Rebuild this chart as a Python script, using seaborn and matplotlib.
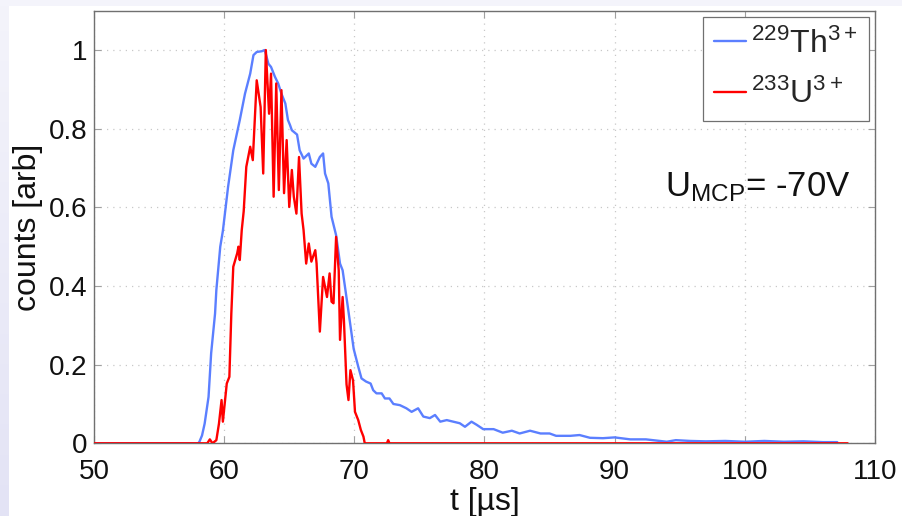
import numpy as np
import pandas as pd
import matplotlib
matplotlib.use("Agg")
import matplotlib.pyplot as plt
import seaborn as sns
from matplotlib.patches import Rectangle
from matplotlib.colors import LinearSegmentedColormap

# ---- data ----
th_t = [50.0, 58.0, 58.1, 58.3, 58.5, 58.8, 59.0, 59.3, 59.4, 59.7, 59.9, 60.3, 60.7, 61.2,
        61.6, 62.0, 62.25, 62.5, 62.9, 63.1, 63.2, 63.4, 63.6, 63.9, 64.15, 64.4, 64.7, 64.9,
        65.05, 65.2, 65.6, 65.8, 66.1, 66.5, 66.7, 67.0, 67.35, 67.6, 67.75, 68.0, 68.25,
        68.6, 68.9, 69.1, 69.5, 69.95, 70.3, 70.55, 70.9, 71.25, 71.45, 71.7, 72.1, 72.35,
        72.7, 73.0, 73.5, 74.0, 74.4, 74.9, 75.3, 75.8, 76.2, 76.6, 77.1, 77.6, 78.1, 78.5,
        79.0, 79.4, 79.9, 80.7, 81.4, 82.1, 82.7, 83.5, 84.3, 85.0, 85.5, 86.6, 87.3, 88.1,
        89.1, 90.0, 91.2, 92.4, 94.0, 94.7, 95.8, 97.0, 98.5, 100.0, 101.5, 103.0, 104.5,
        106.0, 107.1]
th_v = [0.0, 0.0, 0.004, 0.02, 0.05, 0.118, 0.229, 0.33, 0.39, 0.50, 0.54, 0.652, 0.745, 0.822,
        0.889, 0.94, 0.987, 0.995, 0.997, 1.0, 0.99, 0.965, 0.957, 0.932, 0.915, 0.889, 0.864, 0.822,
        0.81, 0.796, 0.785, 0.745, 0.724, 0.737, 0.711, 0.703, 0.728, 0.737, 0.686, 0.661, 0.576,
        0.529, 0.457, 0.44, 0.347, 0.24, 0.195, 0.165, 0.157, 0.152, 0.135, 0.127, 0.127, 0.114,
        0.114, 0.10, 0.097, 0.089, 0.080, 0.089, 0.068, 0.064, 0.072, 0.055, 0.059, 0.055, 0.051, 0.042,
        0.055, 0.047, 0.036, 0.036, 0.027, 0.032, 0.025, 0.032, 0.025, 0.025, 0.019, 0.019, 0.021, 0.014,
        0.013, 0.015, 0.010, 0.010, 0.004, 0.008, 0.006, 0.005, 0.006, 0.004, 0.006, 0.004, 0.005,
        0.003, 0.003]

u_t = [50.0, 58.7, 58.9, 59.1, 59.4, 59.6, 59.8, 59.9, 60.2, 60.4, 60.55, 60.7, 61.0, 61.1,
       61.2, 61.35, 61.5, 61.7, 62.0, 62.2, 62.5, 62.8, 63.0, 63.2, 63.45, 63.6, 63.8, 64.0,
       64.2, 64.4, 64.6, 64.8, 65.0, 65.2, 65.35, 65.55, 65.75, 65.95, 66.1, 66.3, 66.5, 66.7,
       67.0, 67.1, 67.35, 67.6, 67.9, 68.1, 68.25, 68.4, 68.6, 68.8, 68.9, 69.1, 69.2, 69.4,
       69.55, 69.7, 69.9, 70.05, 70.3, 70.5, 70.7, 70.8, 72.5, 72.6, 72.7, 107.9]
u_v = [0.0, 0.0, 0.01, 0.0, 0.008, 0.05, 0.11, 0.055, 0.152, 0.169, 0.33, 0.449, 0.483, 0.50,
       0.466, 0.542, 0.59, 0.703, 0.754, 0.72, 0.923, 0.855, 0.686, 1.0, 0.838, 0.94, 0.627, 0.915,
       0.644, 0.898, 0.636, 0.771, 0.601, 0.695, 0.627, 0.584, 0.728, 0.584, 0.542, 0.457, 0.508, 0.462,
       0.491, 0.457, 0.284, 0.423, 0.372, 0.432, 0.36, 0.356, 0.525, 0.44, 0.263, 0.372, 0.313, 0.15,
       0.11, 0.186, 0.16, 0.08, 0.059, 0.034, 0.017, 0.0, 0.0, 0.008, 0.0, 0.0]

series_labels = [r"$^{229}$Th$^{3+}$", r"$^{233}$U$^{3+}$"]
x_ticks = [50, 60, 70, 80, 90, 100, 110]
y_ticks = [0, 0.2, 0.4, 0.6, 0.8, 1.0]
y_ticklabels = ["0", "0.2", "0.4", "0.6", "0.8", "1"]

df = pd.concat([
    pd.DataFrame({"t": th_t, "counts": th_v, "ion": series_labels[0]}),
    pd.DataFrame({"t": u_t, "counts": u_v, "ion": series_labels[1]}),
], ignore_index=True)

# ---- style ----
sns.set_theme(style="white")
plt.rcParams["font.family"] = ["Liberation Sans", "DejaVu Sans"]
plt.rcParams["mathtext.fontset"] = "custom"
plt.rcParams["mathtext.rm"] = "Liberation Sans"
plt.rcParams["mathtext.it"] = "Liberation Sans"
plt.rcParams["mathtext.default"] = "regular"

fig = plt.figure(figsize=(9.02, 5.16), dpi=100)
fig.patch.set_facecolor("white")

# page background: lavender strips top and left
bg = fig.add_axes([0, 0, 1, 1], zorder=-10)
bg.set_axis_off()
grad = np.linspace(0, 1, 256).reshape(-1, 1)
cmap = LinearSegmentedColormap.from_list("lav", ["#f4f4fb", "#e3e3f5"])
bg.imshow(grad, extent=[0, 9 / 902, 0, 1], aspect="auto", cmap=cmap, origin="upper")
bg.add_patch(Rectangle((0, 1 - 6 / 516), 1, 6 / 516, color="#f4f4fb", lw=0))
bg.set_xlim(0, 1)
bg.set_ylim(0, 1)

ax = fig.add_axes([94 / 902, 1 - 443.3 / 516, (875 - 94) / 902, (443.3 - 10.7) / 516])
ax.set_facecolor("white")

sns.lineplot(data=df, x="t", y="counts", hue="ion", palette=["#5b7fff", "#ff0000"],
             estimator=None, sort=False, linewidth=1.7, legend=False, ax=ax)
lines = ax.get_lines()
lines[1].set_zorder(3)
lines[0].set_zorder(2)

ax.set_xlim(50, 110)
ax.set_ylim(0, 1.1)
ax.set_xticks(x_ticks)
ax.set_xticklabels([str(v) for v in x_ticks])
ax.set_yticks(y_ticks)
ax.set_yticklabels(y_ticklabels)
ax.tick_params(axis="both", which="both", direction="in", length=5, width=0.8,
               color="#a0a0a0", labelsize=20, labelcolor="#111111",
               top=True, right=True, bottom=True, left=True)
ax.tick_params(axis="x", pad=11)
ax.tick_params(axis="y", pad=5)
ax.grid(True, linestyle=(0, (1, 4)), color="#c8c8c8", linewidth=0.9)
for sp in ax.spines.values():
    sp.set_color("#707070")
    sp.set_linewidth(1.0)

ax.set_xlabel("t [µs]", fontsize=23, color="#111111", labelpad=2)
ax.set_ylabel("counts [arb]", fontsize=23, color="#111111", labelpad=4)

leg = ax.legend(lines, series_labels, loc="upper right", fontsize=23,
                frameon=True, fancybox=False, framealpha=1, edgecolor="#707070",
                handlelength=1.0, handletextpad=0.15, labelspacing=0.6,
                borderpad=0.35, borderaxespad=0.2)
leg.get_frame().set_linewidth(0.9)

ax.text(108.1, 0.628, r"U$_{MCP}$= -70V", fontsize=25, color="#111111",
        ha="right", va="baseline")

fig.savefig("out.png", dpi=100, facecolor=fig.get_facecolor())
